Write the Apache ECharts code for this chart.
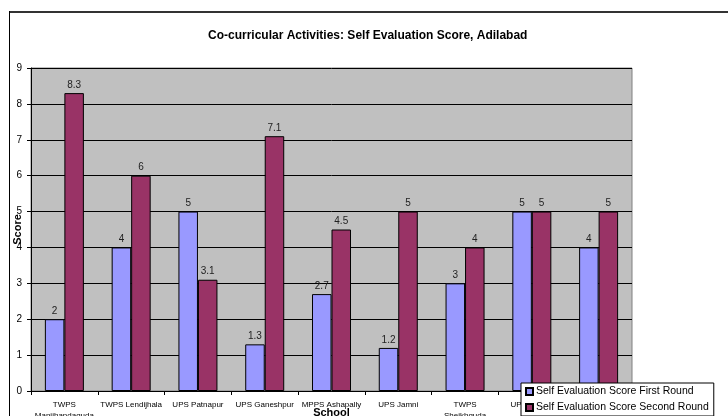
<!DOCTYPE html>
<html>
<head>
<meta charset="utf-8">
<script src="https://cdn.jsdelivr.net/npm/echarts@6/dist/echarts.min.js"></script>
<style>
  html, body { margin: 0; padding: 0; background: #ffffff; }
  #chart { width: 728px; height: 416px; }
</style>
</head>
<body>
<div id="chart"></div>
<script>
// Schools (two-line names wrap under the axis)
var schools = [
  'TWPS\nManijhandaguda',
  'TWPS Lendijhala',
  'UPS Patnapur',
  'UPS Ganeshpur',
  'MPPS Ashapally',
  'UPS Jamni',
  'TWPS\nSheikhguda',
  'UPS Utnoor',
  'MPPS Jainoor'
];
var firstRound = [2, 4, 5, 1.3, 2.7, 1.2, 3, 5, 4];
var secondRound = [8.3, 6, 3.1, 7.1, 4.5, 5, 4, 5, 5];
var seriesNames = ['Self Evaluation Score First Round', 'Self Evaluation Score Second Round'];
var yTicks = { min: 0, max: 9, interval: 1 };

var font = 'Liberation Sans, Arial, sans-serif';
var chart = echarts.init(document.getElementById('chart'), null, { renderer: 'canvas' });

function barSeries(name, data, color) {
  return {
    name: name,
    type: 'bar',
    data: data,
    barWidth: 19.5,
    barGap: '0%',
    itemStyle: { color: color, borderColor: '#000000', borderWidth: 1 },
    label: {
      show: true,
      position: 'top',
      distance: 3,
      fontFamily: font,
      fontSize: 10,
      color: '#222222'
    }
  };
}

chart.setOption({
  animation: false,
  backgroundColor: '#ffffff',
  title: {
    text: 'Co-curricular Activities: Self Evaluation Score, Adilabad',
    left: 203,
    top: 25,
    textStyle: { fontFamily: font, fontSize: 12, fontWeight: 'bold', color: '#000000' }
  },
  graphic: [
    { type: 'line', shape: { x1: 9, y1: 12, x2: 728, y2: 12 }, style: { stroke: '#333333', lineWidth: 2 }, z: 10 },
    { type: 'line', shape: { x1: 9.5, y1: 11, x2: 9.5, y2: 416 }, style: { stroke: '#000000', lineWidth: 1 }, z: 10 }
  ],
  grid: {
    left: 31, right: 96, top: 68, bottom: 25,
    outerBoundsMode: 'none',
    containLabel: false,
    show: true,
    backgroundColor: '#C0C0C0',
    borderColor: '#808080',
    borderWidth: 1
  },
  legend: {
    orient: 'vertical',
    left: 521,
    top: 383,
    padding: [3, 5, 3, 4],
    itemGap: 5,
    itemWidth: 7,
    itemHeight: 7,
    icon: 'rect',
    backgroundColor: '#ffffff',
    borderColor: '#000000',
    borderWidth: 1,
    textStyle: { fontFamily: font, fontSize: 10.5, color: '#000000', padding: [0, 0, 0, -2] },
    data: seriesNames,
    z: 20
  },
  xAxis: {
    type: 'category',
    data: schools,
    name: 'School',
    nameLocation: 'middle',
    nameGap: 16,
    nameMoveOverlap: false,
    nameTextStyle: { fontFamily: font, fontSize: 11, fontWeight: 'bold', color: '#000000' },
    axisLine: { lineStyle: { color: '#000000', width: 1 } },
    axisTick: { show: true, length: 4, lineStyle: { color: '#000000' } },
    axisLabel: {
      interval: 0,
      margin: 8,
      fontFamily: font,
      fontSize: 8,
      lineHeight: 11,
      color: '#000000'
    },
    splitLine: { show: false }
  },
  yAxis: {
    type: 'value',
    min: yTicks.min,
    max: yTicks.max,
    interval: yTicks.interval,
    name: 'Score',
    nameLocation: 'middle',
    nameGap: 8,
    nameMoveOverlap: false,
    nameTextStyle: { fontFamily: font, fontSize: 11, fontWeight: 'bold', color: '#000000' },
    axisLine: { show: true, lineStyle: { color: '#000000', width: 1 } },
    axisTick: { show: true, length: 4, lineStyle: { color: '#000000' } },
    axisLabel: { margin: 9, fontFamily: font, fontSize: 10, color: '#000000' },
    splitLine: { show: true, lineStyle: { color: '#000000', width: 1 } }
  },
  series: [
    barSeries(seriesNames[0], firstRound, '#9999FF'),
    barSeries(seriesNames[1], secondRound, '#993366')
  ]
});
</script>
</body>
</html>
